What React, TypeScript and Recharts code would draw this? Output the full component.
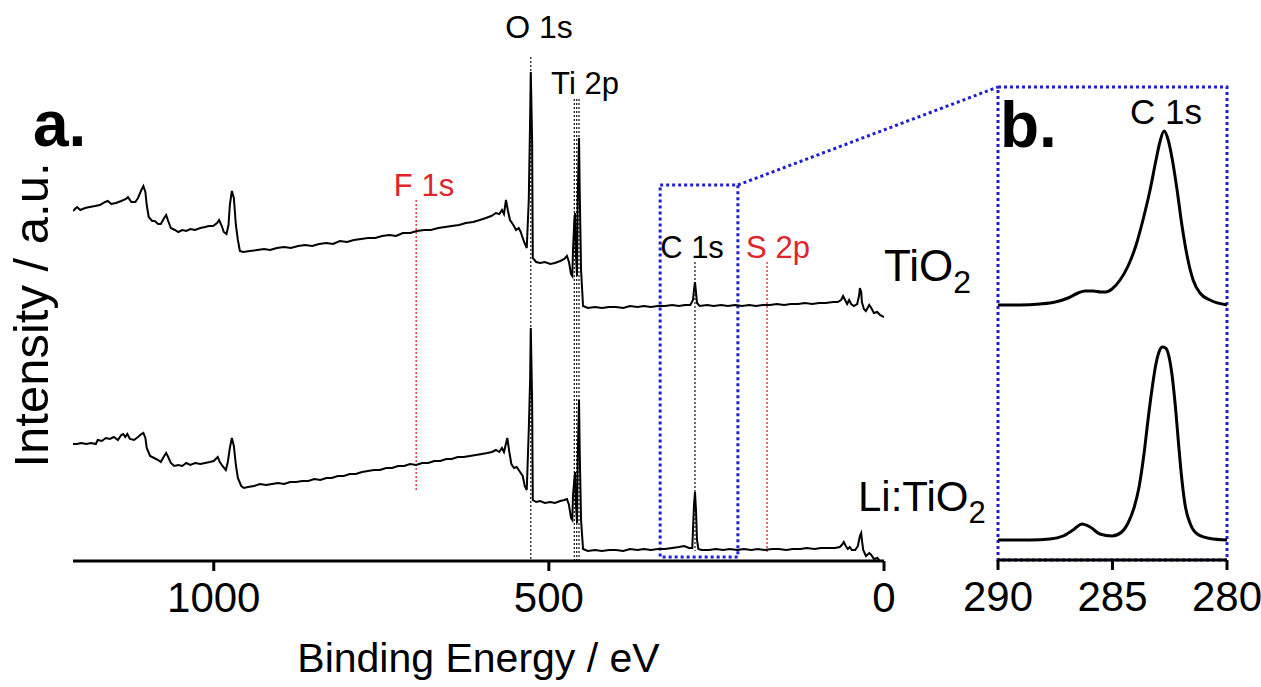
import React from "react";
import { LineChart, Line, XAxis, YAxis, ReferenceLine, ReferenceArea } from "recharts";

document.body.style.margin = "0";

const FONT = "'Liberation Sans', Arial, Helvetica, sans-serif";
const BLUE = "#1f1fd1";
const RED = "#e0242b";

// survey spectra, [binding energy (eV), intensity (a.u.)]
const tio2Survey: [number, number][] = [
  [1210, 70.0], [1204, 70.8], [1199, 70.2], [1192, 70.6], [1185, 70.8], [1177, 71.0], [1170, 71.2], [1162, 71.8],
  [1158, 72.0], [1153, 71.4], [1146, 71.6], [1138, 72.0], [1131, 72.4], [1128, 72.8], [1123, 71.8], [1117, 71.8],
  [1113, 72.6], [1108, 74.2], [1105, 75.0], [1102, 73.8], [1100, 71.2], [1097, 68.8], [1092, 68.0], [1088, 68.0],
  [1083, 67.4], [1079, 67.4], [1074, 68.6], [1071, 69.2], [1068, 68.0], [1064, 66.6], [1058, 66.2], [1053, 65.8],
  [1047, 66.2], [1041, 66.0], [1035, 66.4], [1028, 66.2], [1020, 66.6], [1013, 66.8], [1007, 67.0], [1001, 67.0],
  [995, 67.6], [992, 68.2], [988, 67.0], [985, 65.8], [981, 65.4], [978, 67.2], [976, 71.2], [973, 74.0],
  [970, 72.6], [967, 67.2], [964, 64.2], [961, 62.0], [956, 61.8], [946, 62.0], [935, 62.2], [925, 62.4],
  [916, 62.2], [906, 62.6], [895, 62.8], [885, 62.6], [874, 63.0], [864, 63.2], [853, 63.0], [843, 63.4],
  [832, 63.6], [822, 63.4], [812, 64.0], [801, 63.8], [791, 64.2], [780, 64.4], [770, 64.6], [759, 64.6],
  [749, 65.0], [738, 65.2], [728, 65.0], [718, 65.6], [707, 65.6], [697, 66.0], [686, 66.2], [676, 66.2],
  [665, 66.6], [655, 66.8], [645, 67.0], [634, 67.2], [624, 67.6], [613, 67.8], [603, 68.2], [594, 68.6],
  [586, 69.0], [579, 69.6], [574, 69.4], [570, 70.2], [567, 69.4], [564, 72.2], [561, 70.0], [558, 68.2],
  [553, 67.2], [549, 66.2], [545, 66.6], [542, 65.8], [537, 63.8], [533, 62.6], [530, 72.2], [528, 88.2],
  [527, 97.8], [525, 84.2], [524, 60.6], [519, 59.8], [513, 59.6], [506, 59.8], [498, 59.4], [491, 59.6],
  [483, 60.0], [477, 60.4], [473, 61.0], [470, 59.8], [467, 57.4], [465, 57.0], [464, 62.2], [462, 68.2],
  [461, 69.6], [460, 62.2], [458, 57.0], [457, 72.2], [455, 84.6], [454, 74.2], [452, 58.2], [449, 51.0],
  [442, 50.6], [431, 50.8], [421, 50.6], [410, 50.8], [400, 50.8], [389, 50.6], [379, 51.0], [368, 50.8],
  [358, 51.0], [348, 50.8], [337, 51.0], [327, 51.0], [316, 51.2], [306, 51.0], [297, 51.2], [289, 51.2],
  [285, 52.2], [283.5, 54.2], [282, 55.8], [280.5, 53.8], [279, 51.6], [275, 51.0], [264, 51.2], [254, 51.0],
  [243, 51.2], [233, 51.0], [222, 51.2], [212, 51.0], [201, 51.2], [191, 51.0], [181, 51.2], [170, 51.2],
  [160, 51.4], [149, 51.2], [139, 51.4], [128, 51.4], [118, 51.6], [107, 51.4], [97, 51.6], [87, 51.6],
  [76, 51.8], [69, 51.8], [64, 52.2], [61, 53.0], [58, 52.2], [55, 51.4], [52, 52.2], [49, 51.4],
  [45, 51.0], [40, 51.4], [37, 53.2], [36, 54.6], [34, 53.8], [33, 51.8], [30, 50.4], [27, 50.0],
  [22, 51.2], [19, 50.6], [15, 49.6], [10, 49.8], [6, 49.2], [0, 48.8],
];

const liTio2Survey: [number, number][] = [
  [1210, 23.4], [1204, 23.4], [1198, 23.6], [1190, 23.4], [1183, 23.6], [1176, 23.4], [1173, 24.2], [1167, 24.0],
  [1161, 24.6], [1155, 24.4], [1149, 24.8], [1143, 24.2], [1138, 25.2], [1135, 25.4], [1132, 24.8], [1129, 25.4],
  [1125, 24.4], [1119, 24.2], [1113, 24.8], [1108, 25.4], [1105, 25.6], [1102, 24.6], [1100, 22.6], [1095, 21.0],
  [1089, 20.6], [1083, 20.2], [1079, 19.8], [1074, 21.0], [1071, 21.6], [1068, 20.8], [1064, 19.6], [1059, 19.0],
  [1053, 19.2], [1047, 19.0], [1041, 19.6], [1035, 19.2], [1028, 19.6], [1020, 19.4], [1013, 19.6], [1006, 19.8],
  [1000, 20.0], [997, 20.4], [994, 20.8], [991, 19.8], [987, 19.0], [982, 18.2], [979, 19.8], [976, 22.6],
  [973, 24.6], [970, 23.0], [967, 19.2], [964, 16.6], [959, 15.0], [955, 14.6], [949, 14.8], [940, 15.0],
  [931, 15.4], [922, 15.2], [913, 15.4], [904, 15.6], [895, 15.4], [886, 15.8], [877, 15.8], [868, 16.0],
  [859, 16.0], [850, 16.4], [841, 16.2], [832, 16.6], [824, 16.6], [815, 17.0], [806, 17.0], [797, 17.4],
  [788, 17.4], [779, 17.8], [770, 18.0], [761, 18.2], [752, 18.2], [743, 18.6], [734, 18.6], [725, 19.0],
  [716, 19.0], [707, 19.4], [698, 19.2], [689, 19.6], [680, 19.6], [671, 20.0], [662, 20.0], [653, 20.4],
  [645, 20.4], [636, 20.8], [627, 20.8], [618, 21.0], [609, 21.2], [600, 21.4], [592, 21.6], [585, 21.8],
  [579, 22.2], [574, 21.8], [570, 22.6], [567, 21.8], [562, 24.6], [559, 21.8], [556, 19.4], [552, 18.6],
  [548, 18.8], [543, 17.8], [539, 17.0], [536, 15.0], [533, 14.2], [530, 26.2], [528, 36.2], [527, 46.6],
  [525, 32.2], [524, 12.2], [519, 11.8], [513, 12.0], [506, 11.6], [498, 11.8], [491, 11.6], [483, 12.0],
  [477, 12.2], [473, 12.4], [470, 11.2], [467, 8.6], [465, 8.2], [464, 13.2], [461, 17.8], [460, 12.2],
  [458, 7.6], [457, 20.2], [455, 32.2], [454, 22.2], [452, 8.2], [449, 2.4], [442, 2.0], [431, 2.2],
  [421, 2.0], [410, 2.2], [400, 2.2], [389, 2.0], [379, 2.4], [368, 2.2], [358, 2.4], [348, 2.2],
  [337, 2.4], [327, 2.4], [316, 2.6], [306, 2.8], [298, 3.0], [291, 2.6], [286, 2.6], [285, 6.2],
  [283.5, 11.2], [282, 13.8], [280.5, 10.2], [279, 4.2], [277, 2.4], [272, 2.2], [261, 2.2], [251, 2.4],
  [240, 2.2], [230, 2.4], [219, 2.2], [209, 2.4], [198, 2.2], [188, 2.4], [178, 2.2], [167, 2.4],
  [157, 2.4], [146, 2.2], [136, 2.4], [125, 2.4], [115, 2.6], [104, 2.4], [94, 2.6], [84, 2.6],
  [73, 2.6], [66, 2.8], [63, 3.2], [60, 3.8], [57, 3.0], [54, 2.4], [51, 2.8], [48, 2.2],
  [43, 2.2], [39, 3.0], [36, 5.0], [34, 5.6], [33, 4.2], [31, 2.2], [27, 1.0], [22, 1.6],
  [19, 1.2], [15, 0.4], [10, 0.6], [6, 0.0], [0, 0.0],
];

// C 1s high-resolution spectra
const tio2C1s: [number, number][] = [
  [290, 51.0], [289.04, 51.0], [288.17, 51.2], [287.5, 51.6], [286.94, 52.4], [286.5, 53.4], [286.2, 53.8],
  [285.85, 53.8], [285.5, 53.6], [285.3, 53.6], [285.02, 54.2], [284.67, 56.0], [284.32, 58.8], [283.97, 63.0],
  [283.67, 68.0], [283.36, 74.0], [283.1, 80.0], [282.93, 83.6], [282.75, 85.8], [282.58, 84.2], [282.4, 80.4],
  [282.18, 74.0], [281.97, 67.0], [281.75, 61.0], [281.48, 56.0], [281.18, 53.4], [280.74, 52.0], [280, 51.0],
];

const liTio2C1s: [number, number][] = [
  [290, 4.0], [288.6, 4.0], [287.73, 4.2], [287.16, 4.8], [286.72, 6.0], [286.33, 7.2], [285.98, 6.6],
  [285.55, 5.2], [285.02, 4.8], [284.6, 5.6], [284.3, 7.6], [284.05, 10.6], [283.84, 14.6], [283.62, 21.4],
  [283.45, 28.0], [283.28, 34.0], [283.12, 38.8], [282.97, 41.6], [282.82, 42.6], [282.68, 42.4], [282.54, 40.8],
  [282.4, 37.0], [282.25, 30.5], [282.12, 23.5], [281.98, 16.5], [281.83, 11.0], [281.6, 7.2], [281.3, 5.2],
  [280.74, 4.3], [280, 4.0],
];

const surveyTicks = [0, 500, 1000];
const c1sTicks = [290, 285, 280];

// peak markers: energy, top and bottom of the dotted guide (a.u.)
const blackMarkers = [
  { ev: 527, top: 100.8, bottom: 0 },
  { ev: 462, top: 92.4, bottom: 0 },
  { ev: 458.5, top: 92.4, bottom: 0 },
  { ev: 455, top: 92.4, bottom: 0 },
  { ev: 282, top: 59.8, bottom: 2 },
];
const redMarkers = [
  { ev: 698, top: 72.2, bottom: 14.2 },
  { ev: 174.5, top: 59.8, bottom: 1.8 },
];

// zoomed window on the survey, and the lead to panel b
const zoomWindow = { from: 334, to: 218, low: 0.8, high: 75.2 };
const zoomLead = { ev: -170, level: 94.8 };

const toRows = (pts: [number, number][]) => pts.map(([ev, i]) => ({ ev, i }));

const tickStyle = { fontSize: 42, fill: "#000", fontFamily: FONT };

export default function App() {
  return (
    <div style={{ position: "relative", width: 1261, height: 687, background: "#fff", fontFamily: FONT }}>
      {/* a. survey */}
      <div style={{ position: "absolute", left: 0, top: 0 }}>
        <LineChart width={1261} height={687} margin={{ top: 11, right: 377, bottom: 6, left: 73 }}>
          <XAxis
            type="number"
            dataKey="ev"
            domain={[0, 1210]}
            reversed
            allowDataOverflow
            ticks={surveyTicks}
            height={120}
            tickSize={10}
            tickMargin={11}
            tick={tickStyle}
            axisLine={{ stroke: "#000", strokeWidth: 3 }}
            tickLine={{ stroke: "#000", strokeWidth: 3 }}
            label={{ value: "Binding Energy / eV", position: "insideBottom", offset: 9, fontSize: 41, fill: "#000", fontFamily: FONT }}
          />
          <YAxis hide type="number" domain={[0, 110]} />
          {blackMarkers.map((m) => (
            <ReferenceLine
              key={"b" + m.ev}
              segment={[{ x: m.ev, y: m.top }, { x: m.ev, y: m.bottom }]}
              stroke="#222"
              strokeWidth={1.3}
              strokeDasharray="2 2"
              ifOverflow="visible"
            />
          ))}
          {redMarkers.map((m) => (
            <ReferenceLine
              key={"r" + m.ev}
              segment={[{ x: m.ev, y: m.top }, { x: m.ev, y: m.bottom }]}
              stroke={RED}
              strokeWidth={1.3}
              strokeDasharray="2 2"
              ifOverflow="visible"
            />
          ))}
          <ReferenceArea
            x1={zoomWindow.from}
            x2={zoomWindow.to}
            y1={zoomWindow.low}
            y2={zoomWindow.high}
            fill="none"
            stroke={BLUE}
            strokeWidth={3}
            strokeDasharray="3 3"
            ifOverflow="visible"
          />
          <ReferenceLine
            segment={[{ x: zoomWindow.to, y: zoomWindow.high }, { x: zoomLead.ev, y: zoomLead.level }]}
            stroke={BLUE}
            strokeWidth={3}
            strokeDasharray="3 3"
            ifOverflow="visible"
          />
          <Line data={toRows(tio2Survey)} dataKey="i" type="linear" stroke="#000" strokeWidth={2} dot={false} isAnimationActive={false} />
          <Line data={toRows(liTio2Survey)} dataKey="i" type="linear" stroke="#000" strokeWidth={2} dot={false} isAnimationActive={false} />
        </LineChart>
      </div>

      {/* b. C 1s detail */}
      <div style={{ position: "absolute", left: 0, top: 0 }}>
        <LineChart width={1261} height={687} margin={{ top: 87, right: 34, bottom: 7, left: 998 }}>
          <XAxis
            type="number"
            dataKey="ev"
            domain={[280, 290]}
            reversed
            ticks={c1sTicks}
            height={120}
            tickSize={10}
            tickMargin={11}
            tick={tickStyle}
            axisLine={{ stroke: "#000", strokeWidth: 3 }}
            tickLine={{ stroke: "#000", strokeWidth: 3 }}
          />
          <YAxis hide type="number" domain={[0, 94.6]} />
          <ReferenceArea x1={290} x2={280} y1={0} y2={94.6} fill="none" stroke={BLUE} strokeWidth={3} strokeDasharray="3 3" ifOverflow="visible" />
          <Line data={toRows(tio2C1s)} dataKey="i" type="monotone" stroke="#000" strokeWidth={3} dot={false} isAnimationActive={false} />
          <Line data={toRows(liTio2C1s)} dataKey="i" type="monotone" stroke="#000" strokeWidth={3} dot={false} isAnimationActive={false} />
        </LineChart>
      </div>

      {/* labels */}
      <svg width={1261} height={687} style={{ position: "absolute", left: 0, top: 0, pointerEvents: "none" }} fontFamily={FONT}>
        <text x={33} y={146} fontSize={64} fontWeight="bold">a.</text>
        <text x={1000} y={147} fontSize={64} fontWeight="bold">b.</text>
        <text x={539} y={38} fontSize={32} textAnchor="middle">O 1s</text>
        <text x={585} y={94} fontSize={31} textAnchor="middle">Ti 2p</text>
        <text x={424} y={196} fontSize={31} textAnchor="middle" fill={RED}>F 1s</text>
        <text x={692} y={258} fontSize={31} textAnchor="middle">C 1s</text>
        <text x={778} y={258} fontSize={31} textAnchor="middle" fill={RED}>S 2p</text>
        <text x={1166} y={124} fontSize={35} textAnchor="middle">C 1s</text>
        <text x={884} y={281} fontSize={44}>
          TiO<tspan fontSize={32} dy={12}>2</tspan>
        </text>
        <text x={858} y={511} fontSize={42}>
          Li:TiO<tspan fontSize={31} dy={12}>2</tspan>
        </text>
        <text x={31} y={315} fontSize={49} textAnchor="middle" dominantBaseline="central" transform="rotate(-90 31 315)">
          Intensity / a.u.
        </text>
      </svg>
    </div>
  );
}
